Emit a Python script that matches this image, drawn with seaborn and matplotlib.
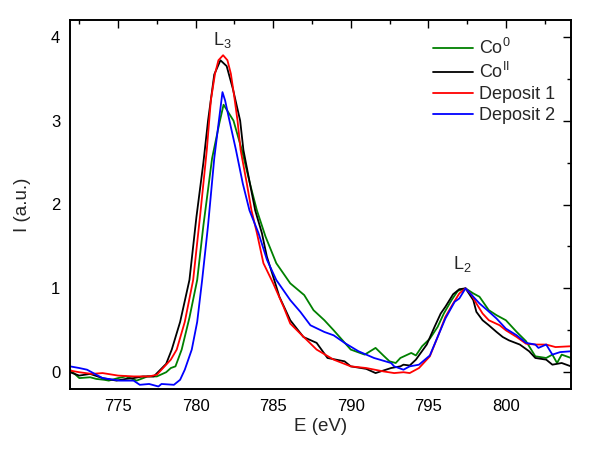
import numpy as np
import pandas as pd
import matplotlib
matplotlib.use("Agg")
import matplotlib.pyplot as plt
import seaborn as sns
from matplotlib.ticker import MultipleLocator
from matplotlib.lines import Line2D

sns.set_theme(style="white")
plt.rcParams['font.family'] = ['Liberation Sans', 'DejaVu Sans']
plt.rcParams['mathtext.fontset'] = 'custom'
plt.rcParams['mathtext.rm'] = 'Liberation Sans'
plt.rcParams['mathtext.it'] = 'Liberation Sans'

series_names = ["Co$^0$", "Co$^{II}$", "Deposit 1", "Deposit 2"]
series_colors = ["#008000", "#000000", "#ff0000", "#0000ff"]

co0_E = [771.9, 772.5, 773.2, 773.6, 774.1, 774.4, 775.0, 775.5, 776.2, 776.9, 777.5, 778.1,
         778.4, 778.7, 779.1, 779.6, 780.1, 780.5, 781.06, 781.53, 781.8, 782.44, 782.98,
         783.5, 783.95, 784.5, 785.2, 786.1, 787.0, 787.6, 788.3, 788.9, 790.0, 790.9, 791.6,
         792.1, 792.5, 792.9, 793.2, 793.9, 794.2, 794.6, 795.1, 795.6, 796.0, 796.5, 796.9,
         797.4, 797.9, 798.3, 798.9, 799.4, 800.0, 800.7, 801.3, 801.9, 802.6, 803.0, 803.3,
         803.6, 804.2]
co0_I = [0.03, -0.07, -0.06, -0.08, -0.09, -0.10, -0.07, -0.05, -0.10, -0.05, -0.05, 0.0,
         0.05, 0.07, 0.27, 0.65, 1.10, 1.75, 2.55, 2.97, 3.19, 3.00, 2.65,
         2.25, 1.93, 1.62, 1.30, 1.06, 0.92, 0.74, 0.62, 0.50, 0.27, 0.21, 0.29,
         0.20, 0.13, 0.11, 0.17, 0.23, 0.20, 0.31, 0.40, 0.54, 0.70, 0.86, 0.97,
         1.00, 0.94, 0.90, 0.74, 0.68, 0.62, 0.48, 0.37, 0.19, 0.17, 0.21, 0.11,
         0.21, 0.17]

coII_E = [771.9, 772.5, 773.2, 774.0, 774.9, 775.5, 776.0, 776.6, 777.3, 778.1, 778.46, 779.0,
          779.6, 780.05, 780.5, 780.8, 781.2, 781.6, 782.0, 782.4, 782.87, 783.08, 783.5,
          783.84, 784.27, 784.59, 785.0, 785.4, 786.1, 786.95, 787.8, 788.5, 789.6, 790.0,
          791.0, 791.6, 792.6, 793.2, 793.4, 793.8, 794.2, 794.9, 795.4, 795.8, 796.1, 796.6,
          797.0, 797.4, 797.9, 798.1, 798.5, 798.9, 799.4, 799.8, 800.2, 800.9, 801.5, 801.9,
          802.6, 803.0, 803.6, 804.2]
coII_I = [0.0, -0.04, -0.02, -0.07, -0.10, -0.08, -0.07, -0.05, -0.05, 0.10, 0.27, 0.60,
          1.10, 1.85, 2.50, 3.00, 3.55, 3.72, 3.65, 3.38, 3.00, 2.65, 2.25,
          1.93, 1.66, 1.38, 1.14, 0.90, 0.62, 0.42, 0.35, 0.17, 0.13, 0.07,
          0.04, -0.01, 0.05, 0.07, 0.09, 0.08, 0.15, 0.33, 0.54, 0.70, 0.78, 0.93,
          0.99, 1.00, 0.86, 0.72, 0.62, 0.56, 0.48, 0.42, 0.38, 0.33, 0.25, 0.17,
          0.15, 0.09, 0.11, 0.07]

dep1_E = [771.9, 772.5, 773.3, 774.0, 775.0, 776.0, 777.0, 777.5, 778.0, 778.4, 778.78, 779.3,
          779.84, 780.29, 780.72, 780.98, 781.25, 781.47, 781.77, 782.05, 782.27, 782.48,
          782.7, 782.9, 783.3, 783.6, 783.95, 784.37, 785.0, 785.67, 786.1, 786.75, 787.8,
          788.9, 790.0, 791.0, 792.1, 792.8, 793.4, 793.8, 794.4, 795.1, 795.6, 796.1, 796.6,
          797.0, 797.4, 797.8, 798.1, 798.5, 798.9, 799.6, 800.0, 800.7, 801.3, 801.9, 802.6,
          803.2, 804.2]
dep1_I = [0.02, 0.0, -0.02, -0.01, -0.04, -0.05, -0.05, -0.03, 0.07, 0.15, 0.27, 0.60,
          1.10, 1.87, 2.65, 3.24, 3.56, 3.72, 3.78, 3.72, 3.56, 3.30,
          3.00, 2.65, 2.25, 1.93, 1.66, 1.30, 1.06, 0.78, 0.58, 0.46, 0.27,
          0.15, 0.07, 0.05, 0.01, -0.01, 0.0, -0.01, 0.05, 0.19, 0.42, 0.66, 0.82,
          0.94, 1.00, 0.92, 0.82, 0.70, 0.62, 0.56, 0.50, 0.42, 0.34, 0.33, 0.33,
          0.30, 0.31]

dep2_E = [771.9, 772.5, 773.0, 774.0, 775.1, 776.0, 776.4, 777.0, 777.6, 777.8, 778.6, 779.0,
          779.3, 779.75, 780.1, 780.42, 780.8, 781.2, 781.5, 781.73, 781.9, 782.18, 782.6,
          783.04, 783.47, 784.05, 784.6, 785.2, 786.1, 786.75, 787.4, 788.3, 788.9, 789.6,
          790.5, 791.5, 792.6, 792.8, 793.4, 793.8, 794.4, 795.1, 795.6, 796.1, 796.7, 797.0,
          797.4, 797.9, 798.3, 798.8, 799.4, 800.0, 800.7, 801.3, 801.9, 802.1, 802.6, 803.0,
          803.5, 804.2]
dep2_I = [0.07, 0.05, 0.03, -0.07, -0.10, -0.10, -0.15, -0.14, -0.17, -0.14, -0.15, -0.09,
          0.03, 0.27, 0.60, 1.10, 1.75, 2.55, 3.00, 3.34, 3.24, 3.00, 2.65,
          2.25, 1.93, 1.66, 1.34, 1.10, 0.86, 0.72, 0.56, 0.48, 0.44, 0.35,
          0.25, 0.17, 0.11, 0.07, 0.03, 0.07, 0.09, 0.20, 0.42, 0.64, 0.84, 0.88,
          1.00, 0.90, 0.82, 0.74, 0.64, 0.52, 0.44, 0.35, 0.33, 0.29, 0.33, 0.21,
          0.24, 0.25]

frames = []
for name, E, I in zip(series_names, [co0_E, coII_E, dep1_E, dep2_E],
                      [co0_I, coII_I, dep1_I, dep2_I]):
    frames.append(pd.DataFrame({"E": E, "I": I, "series": name}))
df = pd.concat(frames, ignore_index=True)

fig = plt.figure(figsize=(6.0, 4.55), dpi=100)
ax = fig.add_axes([70 / 600, 1 - 389 / 455, 501 / 600, 369 / 455])

sns.lineplot(data=df, x="E", y="I", hue="series", hue_order=series_names,
             palette=series_colors, estimator=None, sort=False, lw=1.3,
             legend=False, ax=ax)

ax.set_xlim(771.9, 804.2)
ax.set_ylim(-0.2, 4.2)
ax.xaxis.set_major_locator(MultipleLocator(5))
ax.xaxis.set_minor_locator(MultipleLocator(2.5))
ax.yaxis.set_major_locator(MultipleLocator(1))
ax.yaxis.set_minor_locator(MultipleLocator(0.5))
ax.tick_params(which="both", direction="in", top=True, right=True,
               labeltop=False, labelright=False, colors="black", labelsize=12,
               width=1.0)
ax.tick_params(which="major", length=6, pad=7)
ax.tick_params(which="minor", length=3)
for s in ax.spines.values():
    s.set_linewidth(1.4)
    s.set_color("black")
ax.grid(False)
ax.set_xlabel("E (eV)", fontsize=13.5, labelpad=3)
ax.set_ylabel("I (a.u.)", fontsize=13.5, labelpad=14)

ax.text(781.75, 3.9, "L$_3$", fontsize=13, ha="center", va="baseline")
ax.text(797.2, 1.23, "L$_2$", fontsize=13, ha="center", va="baseline")

handles = [Line2D([0], [0], color=c, lw=1.3) for c in series_colors]
ax.legend(handles, series_names, loc="upper right", bbox_to_anchor=(1.0, 0.995),
          frameon=False, fontsize=13, handlelength=2.2, handletextpad=0.3,
          labelspacing=0.22)

fig.savefig("out.png", dpi=100)
